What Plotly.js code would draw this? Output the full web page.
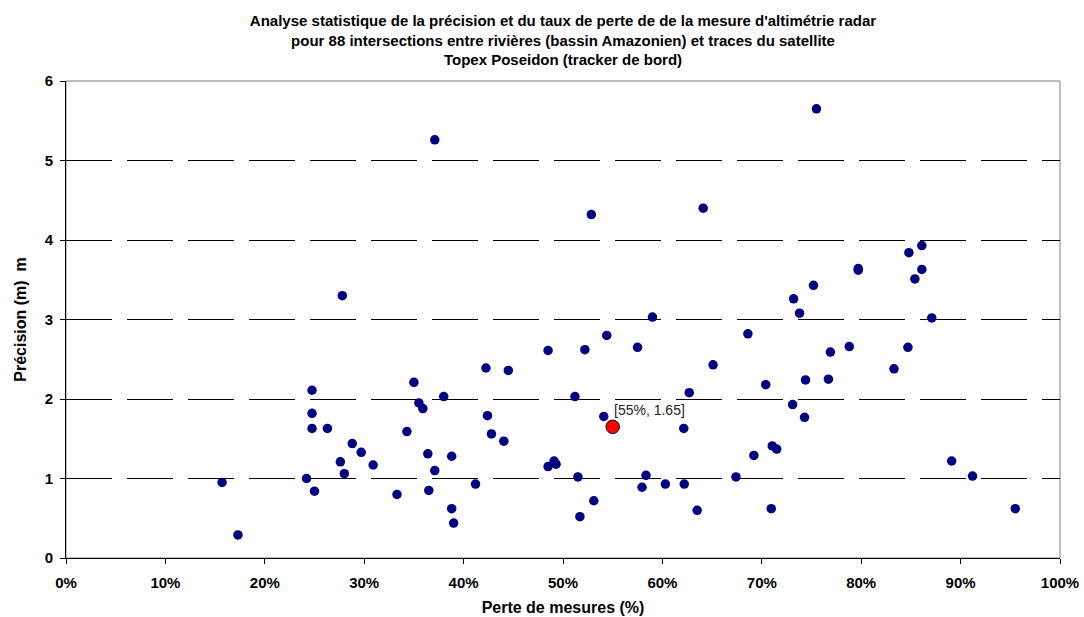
<!DOCTYPE html>
<html>
<head>
<meta charset="utf-8">
<script src="https://cdn.plot.ly/plotly-3.0.1.min.js"></script>
<style>html,body{margin:0;padding:0;background:#ffffff;}</style>
</head>
<body>
<div id="chart" style="width:1084px;height:617px;"></div>
<script>
// Perte de mesures (%) for each river/track intersection
const perte = [
  15.7, 17.3, 24.2, 24.75, 24.75, 24.75, 25.0, 26.3, 27.6, 27.8,
  28.0, 28.8, 29.7, 30.9, 33.3, 34.3, 35.0, 35.5, 35.9, 36.4,
  36.5, 37.1, 37.1, 38.0, 38.8, 38.8, 39.0, 41.2, 42.25, 42.4,
  42.8, 44.05, 44.5, 48.5, 48.5, 49.1, 49.3, 51.2, 51.5, 51.7,
  52.2, 52.85, 53.1, 54.1, 54.4, 57.5, 57.95, 58.35, 59.0, 60.3,
  62.15, 62.2, 62.7, 63.5, 64.1, 65.1, 67.4, 68.6, 69.2, 70.4,
  70.95, 71.05, 71.5, 73.1, 73.2, 73.8, 74.3, 74.4, 75.2, 75.5,
  76.7, 76.9, 78.8, 79.7, 79.7, 83.3, 84.7, 84.8, 85.4, 86.1,
  86.1, 87.1, 89.1, 91.2, 95.5
];
// Précision (m) for each intersection
const precision = [
  0.95, 0.29, 1.00, 2.11, 1.82, 1.63, 0.84, 1.63, 1.21, 3.30,
  1.06, 1.44, 1.33, 1.17, 0.80, 1.59, 2.21, 1.95, 1.88, 1.31,
  0.85, 5.26, 1.10, 2.03, 1.28, 0.62, 0.44, 0.93, 2.39, 1.79,
  1.56, 1.47, 2.36, 2.61, 1.15, 1.22, 1.18, 2.03, 1.02, 0.52,
  2.62, 4.32, 0.72, 1.78, 2.80, 2.65, 0.89, 1.04, 3.03, 0.93,
  1.63, 0.93, 2.08, 0.60, 4.40, 2.43, 1.02, 2.82, 1.29, 2.18,
  0.62, 1.41, 1.37, 1.93, 3.26, 3.08, 1.77, 2.24, 3.43, 5.65,
  2.25, 2.59, 2.66, 3.64, 3.62, 2.38, 2.65, 3.84, 3.51, 3.93,
  3.63, 3.02, 1.22, 1.03, 0.62
];
// Highlighted mean point
const moyennePerte = [55];
const moyennePrecision = [1.65];
const moyenneLabel = '[55%, 1.65]';

const titleText = "Analyse statistique de la précision et du taux de perte de de la mesure d'altimétrie radar<br>pour 88 intersections entre rivières (bassin Amazonien) et traces du satellite<br>Topex Poseidon (tracker de bord)";
const xTitle = 'Perte de mesures (%)';
const yTitle = 'Précision (m)\u00a0\u00a0m';
const xTickVals = [0, 10, 20, 30, 40, 50, 60, 70, 80, 90, 100];
const xTickText = ['0%', '10%', '20%', '30%', '40%', '50%', '60%', '70%', '80%', '90%', '100%'];
const yTickVals = [0, 1, 2, 3, 4, 5, 6];

const FONT = 'Arial, "Liberation Sans", sans-serif';

const traces = [
  {
    type: 'scatter', mode: 'markers',
    x: perte, y: precision,
    marker: {color: '#000080', size: 9.5, line: {width: 0}},
    hoverinfo: 'x+y', showlegend: false, cliponaxis: false
  },
  {
    type: 'scatter', mode: 'markers',
    x: moyennePerte, y: moyennePrecision,
    marker: {color: '#ff0000', size: 13.5, line: {width: 1, color: '#000000'}},
    showlegend: false, cliponaxis: false
  }
];

const layout = {
  width: 1084, height: 617,
  paper_bgcolor: '#ffffff', plot_bgcolor: '#ffffff',
  margin: {l: 66, r: 24, t: 81, b: 59, pad: 0},
  font: {family: FONT, color: '#000000'},
  title: {
    text: titleText,
    font: {family: FONT, size: 15, weight: 'bold', color: '#000000'},
    x: 0.5, xref: 'paper', xanchor: 'center',
    y: 1 - 26 / 617, yref: 'container', yanchor: 'middle'
  },
  xaxis: {
    range: [0, 100], fixedrange: true,
    tickvals: xTickVals, ticktext: xTickText,
    ticks: 'outside', ticklen: 5, tickwidth: 1, tickcolor: '#000000',
    tickfont: {family: FONT, size: 15, weight: 'bold', color: '#000000'},
    showline: true, linecolor: '#000000', linewidth: 1, mirror: false,
    showgrid: false, zeroline: false,
    ticklabelstandoff: 6,
    title: {text: xTitle, font: {family: FONT, size: 16, weight: 'bold', color: '#000000'}, standoff: 11}
  },
  yaxis: {
    range: [0, 6], fixedrange: true,
    tickvals: yTickVals,
    ticks: 'outside', ticklen: 5, tickwidth: 1, tickcolor: '#000000',
    tickfont: {family: FONT, size: 15, weight: 'bold', color: '#000000'},
    showline: true, linecolor: '#000000', linewidth: 1, mirror: false,
    showgrid: true, gridcolor: '#000000', gridwidth: 1, griddash: '46px,15px',
    zeroline: false,
    ticklabelstandoff: 4,
    title: {text: yTitle, font: {family: FONT, size: 16, weight: 'bold', color: '#000000'}, standoff: 14}
  },
  shapes: [{
    type: 'rect', xref: 'paper', yref: 'paper', x0: 0, x1: 1, y0: 0, y1: 1,
    line: {color: '#808080', width: 1}, fillcolor: 'rgba(0,0,0,0)', layer: 'below'
  }],
  annotations: [{
    x: moyennePerte[0], y: moyennePrecision[0], xref: 'x', yref: 'y',
    text: moyenneLabel, showarrow: false,
    xanchor: 'left', yanchor: 'bottom', xshift: -1, yshift: 7,
    font: {family: FONT, size: 14, color: '#222222'}
  }]
};

Plotly.newPlot('chart', traces, layout, {displayModeBar: false, staticPlot: true});
</script>
</body>
</html>
